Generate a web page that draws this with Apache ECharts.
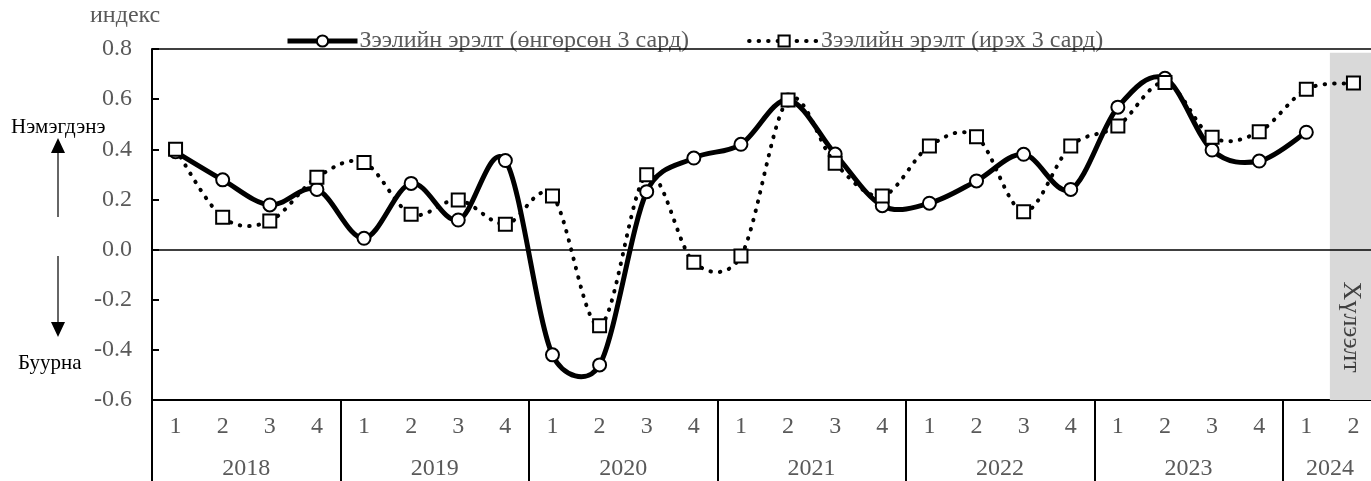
<!DOCTYPE html>
<html>
<head>
<meta charset="utf-8">
<script src="https://cdn.jsdelivr.net/npm/echarts@6/dist/echarts.min.js"></script>
<style>
html,body{margin:0;padding:0;background:#fff;overflow:hidden;}
#c{width:1371px;height:481px;}
</style>
</head>
<body>
<div id="c"></div>
<script>
// ---- data ----
const years = ['2018', '2019', '2020', '2021', '2022', '2023', '2024'];
const quartersPerYear = [4, 4, 4, 4, 4, 4, 2];
const pastDemand = [0.39, 0.278, 0.178, 0.24, 0.045, 0.264, 0.118, 0.355, -0.42, -0.46, 0.231, 0.365,
  0.42, 0.597, 0.381, 0.175, 0.185, 0.274, 0.38, 0.24, 0.568, 0.683, 0.397, 0.353, 0.468, null];
const nextDemand = [0.40, 0.129, 0.114, 0.288, 0.347, 0.141, 0.198, 0.101, 0.214, -0.304, 0.298, -0.051,
  -0.026, 0.597, 0.344, 0.214, 0.413, 0.45, 0.151, 0.413, 0.493, 0.666, 0.448, 0.47, 0.639, 0.664];
const seriesNames = ['Зээлийн эрэлт (өнгөрсөн 3 сард)', 'Зээлийн эрэлт (ирэх 3 сард)'];
const yMin = -0.6, yMax = 0.8, yStep = 0.2;
const forecastCount = 1; // last quarter(s) shaded as expectation
const forecastLabel = 'Хүлээлт';
const yAxisName = 'индекс';
const upLabel = 'Нэмэгдэнэ';
const downLabel = 'Буурна';

// ---- derived ----
const categories = [];
const yearCenters = [];
const yearStarts = [];
let acc = 0;
years.forEach((y, i) => {
  yearStarts.push(acc);
  yearCenters.push(acc + quartersPerYear[i] / 2);
  for (let q = 1; q <= quartersPerYear[i]; q++) categories.push(String(q));
  acc += quartersPerYear[i];
});
const total = acc;

const FONT = 'Liberation Serif';
const GRAY = '#595959';

// Excel-like smoothed curve drawn through the axis scales (api.coord)
function smoothCurve(values, style, z) {
  return {
    type: 'custom', xAxisIndex: 0, yAxisIndex: 0, z: z, silent: true,
    data: values.map((v, i) => [i, v]),
    renderItem: function (params, api) {
      const i = params.dataIndex;
      if (i >= values.length - 1 || values[i] == null || values[i + 1] == null) return null;
      const pt = (j, fb) => (j < 0 || j >= values.length || values[j] == null) ? api.coord([fb, values[fb]]) : api.coord([j, values[j]]);
      const p1 = pt(i, i), p2 = pt(i + 1, i + 1);
      const p0 = pt(i - 1, i), p3 = pt(i + 2, i + 1);
      const seg = Math.hypot(p2[0] - p1[0], p2[1] - p1[1]);
      let t1 = [(p2[0] - p0[0]) / 6, (p2[1] - p0[1]) / 6];
      let t2 = [(p3[0] - p1[0]) / 6, (p3[1] - p1[1]) / 6];
      const cap = (t) => { const l = Math.hypot(t[0], t[1]); const m = seg * 0.5; return l > m ? [t[0] * m / l, t[1] * m / l] : t; };
      t1 = cap(t1); t2 = cap(t2);
      return {
        type: 'bezierCurve',
        shape: {x1: p1[0], y1: p1[1], x2: p2[0], y2: p2[1],
          cpx1: p1[0] + t1[0], cpy1: p1[1] + t1[1], cpx2: p2[0] - t2[0], cpy2: p2[1] - t2[1]},
        style: Object.assign({fill: null}, style)
      };
    }
  };
}

const chart = echarts.init(document.getElementById('c'), null, {renderer: 'canvas'});
chart.setOption({
  animation: false,
  textStyle: {fontFamily: FONT},
  grid: {left: 152, width: 1225, top: 49, bottom: 81, containLabel: false, outerBoundsMode: 'none'},
  legend: {
    left: 280, top: 24, itemWidth: 70, itemHeight: 14, itemGap: 58,
    textStyle: {fontFamily: FONT, fontSize: 24, color: GRAY, padding: [0, 0, 0, -3]},
    data: [
      {name: seriesNames[0], lineStyle: {color: '#000', width: 5, opacity: 1, type: 'solid'}},
      {name: seriesNames[1], lineStyle: {color: '#000', width: 4, opacity: 1, type: [0.5, 9], cap: 'round'}}
    ]
  },
  xAxis: [
    {
      type: 'category', data: categories, boundaryGap: true,
      axisLine: {onZero: false, lineStyle: {color: '#000', width: 2}},
      axisTick: {show: false},
      axisLabel: {color: GRAY, fontSize: 24, fontFamily: FONT, margin: 15, interval: 0},
      splitLine: {show: false}
    },
    {
      type: 'value', min: 0, max: total, position: 'bottom',
      axisLine: {show: false, onZero: false},
      axisTick: {show: true, customValues: yearStarts, length: 81, inside: false,
        lineStyle: {color: '#000', width: 2}},
      axisLabel: {show: true, customValues: yearCenters, color: GRAY, fontSize: 24, fontFamily: FONT,
        margin: 57, formatter: v => { const i = yearCenters.indexOf(v); return i >= 0 ? years[i] : ''; }},
      splitLine: {show: false}
    }
  ],
  yAxis: {
    type: 'value', min: yMin, max: yMax, interval: yStep,
    axisLine: {show: true, lineStyle: {color: '#000', width: 2}},
    axisTick: {show: true, inside: true, length: 7, lineStyle: {color: '#000', width: 2}},
    axisLabel: {color: GRAY, fontSize: 24, fontFamily: FONT, margin: 20, formatter: v => v.toFixed(1)},
    splitLine: {show: false}
  },
  series: [
    {
      type: 'line', xAxisIndex: 1, data: [], silent: true,
      markArea: {
        silent: true,
        itemStyle: {color: '#d9d9d9'},
        label: {show: true, formatter: forecastLabel, rotate: -90, position: ['45%', '79%'],
          align: 'center', verticalAlign: 'middle', fontFamily: FONT, fontSize: 26, color: '#404040'},
        data: [[{xAxis: total - forecastCount, yAxis: yMin}, {xAxis: total, yAxis: yMax - 0.015}]]
      },
      markLine: {
        silent: true, symbol: 'none', label: {show: false},
        lineStyle: {color: '#000', width: 1.5, type: 'solid'},
        data: [{yAxis: 0}, {yAxis: yMax}]
      }
    },
    smoothCurve(pastDemand, {stroke: '#000', lineWidth: 5, lineCap: 'round', lineJoin: 'round'}, 2),
    {
      name: seriesNames[0], type: 'line', data: pastDemand,
      symbol: 'circle', symbolSize: 13,
      lineStyle: {color: '#000', width: 0, opacity: 0},
      itemStyle: {color: '#fff', borderColor: '#000', borderWidth: 2},
      z: 3
    },
    smoothCurve(nextDemand, {stroke: '#000', lineWidth: 4, lineCap: 'round', lineDash: [0.5, 9]}, 4),
    {
      name: seriesNames[1], type: 'line', data: nextDemand,
      symbol: 'rect', symbolSize: 13,
      lineStyle: {color: '#000', width: 0, opacity: 0},
      itemStyle: {color: '#fff', borderColor: '#000', borderWidth: 2},
      z: 5
    }
  ],
  graphic: [
    {type: 'text', left: 90, top: 4, style: {text: yAxisName, font: '24px ' + FONT, fill: GRAY}},
    {type: 'text', left: 11, top: 117, style: {text: upLabel, font: '21px ' + FONT, fill: '#000'}},
    {type: 'text', left: 18, top: 353, style: {text: downLabel, font: '21px ' + FONT, fill: '#000'}},
    {type: 'line', shape: {x1: 58, y1: 217, x2: 58, y2: 150}, style: {stroke: '#333', lineWidth: 1.5}},
    {type: 'polygon', shape: {points: [[58, 138], [51, 153], [65, 153]]}, style: {fill: '#000'}},
    {type: 'line', shape: {x1: 58, y1: 256, x2: 58, y2: 325}, style: {stroke: '#333', lineWidth: 1.5}},
    {type: 'polygon', shape: {points: [[58, 337], [51, 322], [65, 322]]}, style: {fill: '#000'}}
  ]
});
</script>
</body>
</html>
